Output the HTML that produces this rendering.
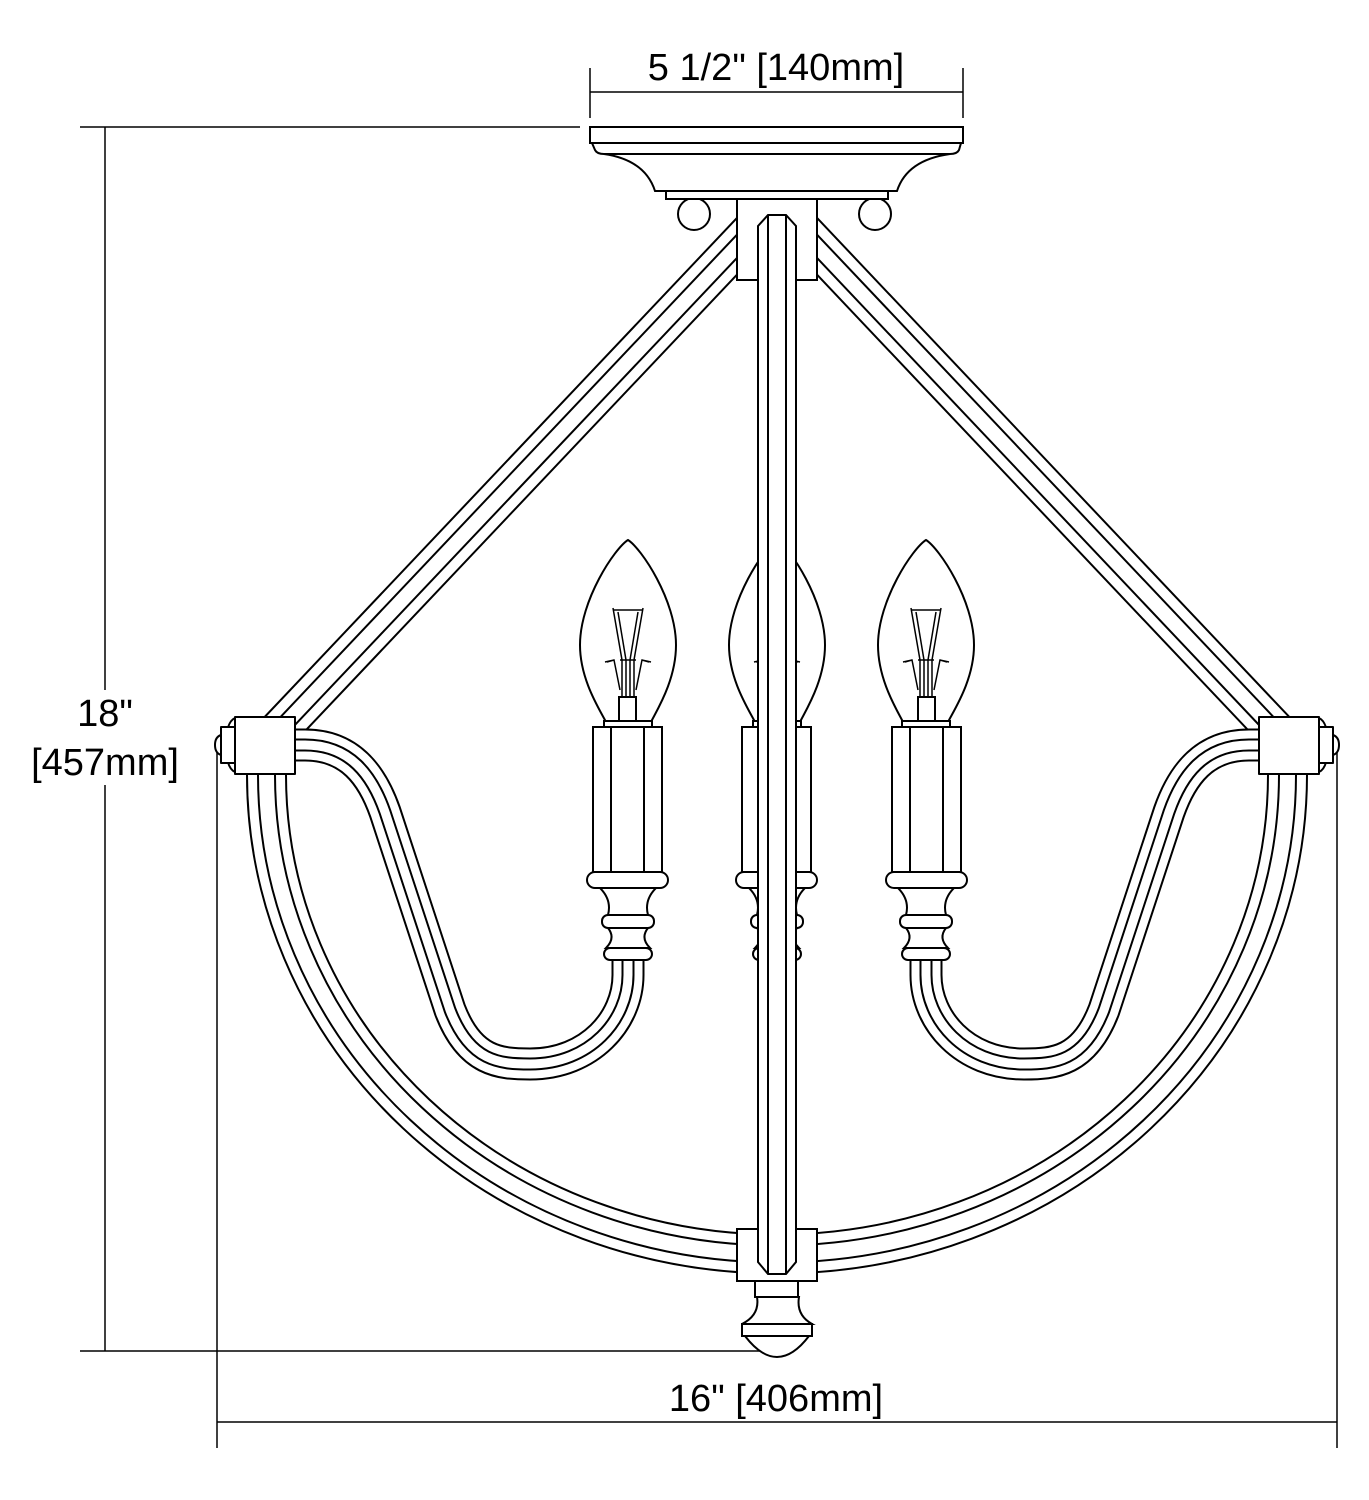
<!DOCTYPE html>
<html><head><meta charset="utf-8"><style>
html,body{margin:0;padding:0;background:#fff}
svg{display:block}
text{font-family:"Liberation Sans",sans-serif;font-size:38px;fill:#000}
</style></head><body>
<svg width="1369" height="1500" viewBox="0 0 1369 1500" xmlns="http://www.w3.org/2000/svg">
<defs>
<g id="half" fill="none" stroke-linejoin="round">
  <path d="M266.5,760 L266.5,775 A510.5 479 0 0 0 777,1254" stroke="#000" stroke-width="41"/>
  <path d="M266.5,760 L266.5,775 A510.5 479 0 0 0 777,1254" stroke="#fff" stroke-width="37"/>
  <path d="M266.5,760 L266.5,775 A510.5 479 0 0 0 777,1254" stroke="#000" stroke-width="19"/>
  <path d="M266.5,760 L266.5,775 A510.5 479 0 0 0 777,1254" stroke="#fff" stroke-width="15"/>
  <path d="M777,204 L265,745" stroke="#000" stroke-width="41"/>
  <path d="M777,204 L265,745" stroke="#fff" stroke-width="37"/>
  <path d="M777,204 L265,745" stroke="#000" stroke-width="18"/>
  <path d="M777,204 L265,745" stroke="#fff" stroke-width="14"/>
  <path d="M265,745 L305,745 C350,745 372,775 385,812 L450,1010 C470,1062 500,1064 530,1064 C590,1064 628,1020 628,975 L628,940" stroke="#000" stroke-width="33"/>
  <path d="M265,745 L305,745 C350,745 372,775 385,812 L450,1010 C470,1062 500,1064 530,1064 C590,1064 628,1020 628,975 L628,940" stroke="#fff" stroke-width="29"/>
  <path d="M265,745 L305,745 C350,745 372,775 385,812 L450,1010 C470,1062 500,1064 530,1064 C590,1064 628,1020 628,975 L628,940" stroke="#000" stroke-width="13"/>
  <path d="M265,745 L305,745 C350,745 372,775 385,812 L450,1010 C470,1062 500,1064 530,1064 C590,1064 628,1020 628,975 L628,940" stroke="#fff" stroke-width="9"/>
  <g stroke="#000" stroke-width="2" fill="#fff">
    <path d="M235,718 Q226,722 226,745 Q226,768 235,772 Z"/>
    <rect x="221" y="727" width="14" height="36"/>
    <path d="M221,735 Q215,737 215,745 Q215,753 221,755 Z"/>
    <rect x="235" y="717" width="60" height="57"/>
  </g>
</g>
<g id="candle" stroke="#000" stroke-width="2" fill="#fff">
  <path d="M628,540 C615,548 580,600 580,645 C580,680 600,710 606,722 L651,722 C657,710 676,680 676,645 C676,600 641,548 628,540 Z"/>
  <g fill="none" stroke-width="1.5">
    <path d="M613,610 L643,610 M613,608 L622,660 M643,608 L634,660 M618,612 L626,660 M638,612 L630,660 M620,660 L636,660 M622,660 L622,697 M634,660 L634,697 M626,660 L626,697 M630,660 L630,697 M614,660 L607,662 M642,660 L649,662 M605,662 L614,660 L620,690 M651,662 L642,660 L636,690"/>
  </g>
  <rect x="619" y="697" width="17" height="25"/>
  <rect x="604" y="721" width="48" height="6"/>
  <rect x="593" y="727" width="69" height="145"/>
  <path d="M611,727 L611,872 M644,727 L644,872" fill="none"/>
  <rect x="587" y="872" width="81" height="16" rx="8"/>
  <path d="M600,888 Q612,900 608,915 L648,915 Q644,900 656,888 Z"/>
  <rect x="602" y="915" width="52" height="13" rx="6"/>
  <path d="M608,928 Q616,938 606,948 L650,948 Q640,938 648,928 Z"/>
  <rect x="604" y="948" width="48" height="12" rx="6"/>
</g>
</defs>

<g stroke="#000" stroke-width="1.5" fill="none">
  <path d="M590,68 L590,118 M963,68 L963,118 M590,92 L963,92"/>
  <path d="M80,127 L580,127 M80,1351 L765,1351 M105,127 L105,690 M105,785 L105,1351"/>
  <path d="M217,740 L217,1448 M1337,740 L1337,1448 M217,1422 L1337,1422"/>
</g>
<text x="776" y="80" text-anchor="middle">5 1/2" [140mm]</text>
<text x="105" y="726" text-anchor="middle">18"</text>
<text x="105" y="775" text-anchor="middle">[457mm]</text>
<text x="776" y="1411" text-anchor="middle">16" [406mm]</text>

<use href="#half"/>
<use href="#half" transform="translate(1554,0) scale(-1,1)"/>

<use href="#candle"/>
<use href="#candle" transform="translate(1554,0) scale(-1,1)"/>
<use href="#candle" transform="translate(149,0)"/>

<g stroke="#000" stroke-width="2" fill="#fff">
  <rect x="737" y="199" width="80" height="81"/>
  <circle cx="694" cy="214" r="16"/>
  <circle cx="875" cy="214" r="16"/>
  <path d="M604,154 Q645,160 655,191 L897,191 Q907,160 950,154 Z"/>
  <rect x="666" y="191" width="222" height="8"/>
  <path d="M592,143 L961,143 L959,150 Q957,154 950,154 L604,154 Q597,154 595,150 Z"/>
  <rect x="590" y="127" width="373" height="16"/>
  <rect x="737" y="1229" width="80" height="52"/>
  <path d="M758,226 L768,215 L786,215 L796,226 L796,1262 L786,1274 L768,1274 L758,1262 Z"/>
  <path d="M768,215 L768,1274 M786,215 L786,1274" fill="none"/>
  <rect x="755" y="1281" width="43" height="16"/>
  <path d="M757,1297 Q760,1315 742,1324 L812,1324 Q796,1315 799,1297 Z"/>
  <path d="M745,1336 Q777,1378 809,1336 Z"/>
  <rect x="742" y="1324" width="70" height="12"/>
</g>
</svg>
</body></html>
